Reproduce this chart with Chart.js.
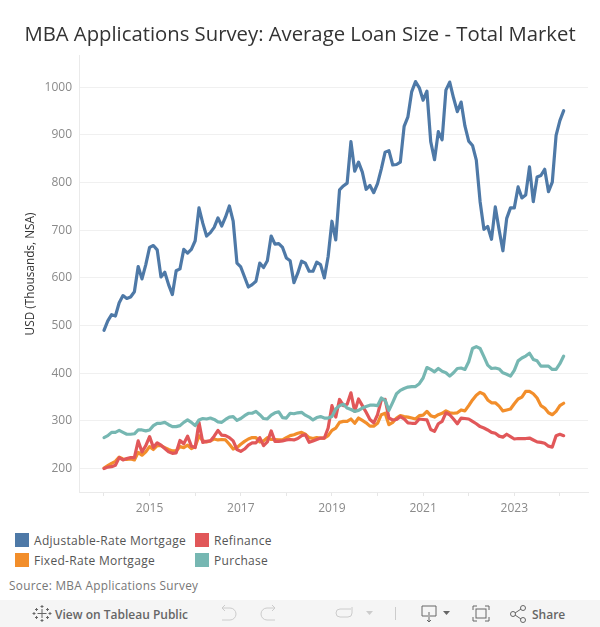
<!DOCTYPE html>
<html>
<head>
<meta charset="utf-8">
<title>MBA Applications Survey</title>
<script src="https://cdn.jsdelivr.net/npm/chart.js@4"></script>
<style>
    html, body { margin: 0; padding: 0; background: #fff; width: 600px; height: 627px; overflow: hidden; font-family: 'Open Sans', sans-serif; }
    #wrap { position: absolute; left: 0; top: 0; width: 600px; height: 520px; }
    .legend-item { position: absolute; font-size: 12px; color: #555; line-height: 14px; letter-spacing: 0.3px; white-space: nowrap; }
    .legend-item i { position: absolute; left: -19px; top: -1px; width: 14px; height: 14px; }
    #source { position: absolute; left: 9px; top: 577px; font-size: 11.8px; color: #777; letter-spacing: 0.3px; }
    #bar { position: absolute; left: 0; top: 600px; width: 600px; height: 27px; background: #f5f5f5; color: #666; font-size: 12px; font-weight: 600; }
    #bar span { position: absolute; top: 6px; }
    #bar svg { position: absolute; left: 0; top: 0; }
</style>
</head>
<body>
<div id="wrap"><canvas id="chartLoan"></canvas></div>

<div class="legend-item" style="left:34px;top:534px"><i style="background:#4e79a7"></i>Adjustable-Rate Mortgage</div>
<div class="legend-item" style="left:214px;top:534px"><i style="background:#e15759"></i>Refinance</div>
<div class="legend-item" style="left:34px;top:554px"><i style="background:#f28e2b"></i>Fixed-Rate Mortgage</div>
<div class="legend-item" style="left:214px;top:554px"><i style="background:#76b7b2"></i>Purchase</div>
<div id="source">Source: MBA Applications Survey</div>

<div id="bar">
    <svg width="600" height="27" fill="none" stroke="#888" stroke-width="1">
        <!-- tableau mark -->
        <path d="M42 9v9M37.500 13.500h9M42 5v3M40.500 6.500h3M42 19v3M40.500 20.500h3M34 12v3M32.500 13.500h3M50 12v3M48.500 13.500h3M36.500 8v3M35 9.500h3M47.500 8v3M46 9.500h3M36.500 16v3M35 17.500h3M47.500 16v3M46 17.500h3" stroke="#666"/>
        <!-- undo / redo -->
        <path d="M222 8h8a6 6 0 0 1 0 12h-8M222 8l3-3M222 8l3 3" stroke="#ccc"/>
        <path d="M275 8h-8a6 6 0 0 0 0 12h8M275 8l-3-3M275 8l-3 3" stroke="#ccc"/>
        <path d="M351 9h-11a4 4 0 0 0 0 8h8a4 4 0 0 0 4-4v-6" stroke="#ccc"/>
        <path d="M366 11l3.500 4 3.500-4z" fill="#ccc" stroke="none"/>
        <path d="M395.500 7v13" stroke="#ccc"/>
        <!-- download -->
        <path d="M422 6h14v10h-6M428 16h-6V6M429 12v10M427 20l2 2 2-2" stroke="#666"/>
        <path d="M443 11l3.500 4 3.500-4z" fill="#666" stroke="none"/>
        <!-- fullscreen -->
        <path d="M473 10V6h4M485 6h4v4M489 17v4h-4M477 21h-4v-4" stroke="#666"/>
        <rect x="476" y="9" width="10" height="9" stroke="#666"/>
        <!-- share -->
        <circle cx="513" cy="14" r="2.500" stroke="#666"/>
        <circle cx="523" cy="8" r="2.500" stroke="#666"/>
        <circle cx="523" cy="20" r="2.500" stroke="#666"/>
        <path d="M515 13l6-4M515 15l6 4" stroke="#666"/>
    </svg>
    <span style="left:55px">View on Tableau Public</span>
    <span style="left:532px">Share</span>
</div>

<script>
// Ano de cada marca do eixo (janeiro), e quais recebem rótulo
const yearTicks = [2014, 2015, 2016, 2017, 2018, 2019, 2020, 2021, 2022, 2023, 2024];
const labeledYears = [2015, 2017, 2019, 2021, 2023];
const valueTicks = [200, 300, 400, 500, 600, 700, 800, 900, 1000];

// Valores mensais, jan/2014 a fev/2024 (USD mil)
const armValues = [
    490, 510, 523, 520, 548, 563, 557, 560, 571, 624, 598, 628,
    664, 668, 659, 602, 612, 586, 565, 615, 619, 660, 652, 660,
    678, 747, 715, 688, 695, 706, 726, 709, 728, 751, 719, 631,
    623, 602, 581, 586, 593, 631, 622, 636, 688, 671, 672, 664,
    642, 636, 590, 610, 635, 631, 614, 614, 633, 628, 600, 645,
    719, 680, 785, 793, 799, 886, 824, 843, 822, 786, 794, 779,
    798, 829, 864, 867, 837, 838, 843, 918, 938, 991, 1012, 999,
    973, 992, 886, 848, 907, 890, 994, 1011, 978, 949, 969, 919,
    887, 878, 847, 760, 702, 708, 681, 749, 701, 657, 725, 747,
    747, 791, 768, 774, 833, 760, 812, 815, 828, 781, 801, 899,
    930, 951
];
const fixedValues = [
    201, 206, 211, 215, 224, 220, 219, 220, 218, 234, 228, 235,
    246, 240, 248, 248, 244, 240, 237, 237, 246, 244, 249, 242,
    246, 269, 258, 256, 258, 262, 260, 261, 260, 251, 241, 244,
    251, 257, 262, 265, 265, 256, 258, 265, 261, 261, 260, 260,
    265, 269, 271, 274, 276, 272, 265, 263, 265, 264, 264, 269,
    280, 285, 297, 299, 299, 304, 295, 306, 301, 296, 289, 289,
    295, 313, 316, 292, 297, 306, 311, 309, 308, 306, 304, 311,
    312, 320, 311, 308, 313, 316, 321, 317, 316, 317, 323, 321,
    332, 344, 354, 360, 356, 344, 338, 338, 331, 321, 323, 325,
    336, 346, 350, 362, 362, 357, 348, 332, 327, 317, 313, 320,
    332, 337
];
const refiValues = [
    200, 203, 204, 207, 223, 218, 221, 223, 223, 258, 235, 248,
    267, 244, 254, 249, 242, 235, 232, 233, 259, 252, 268, 247,
    244, 297, 255, 257, 258, 268, 280, 270, 269, 265, 258, 240,
    236, 241, 249, 254, 254, 265, 248, 256, 279, 257, 257, 258,
    260, 261, 260, 263, 269, 271, 255, 258, 261, 264, 264, 285,
    332, 308, 345, 332, 335, 359, 320, 346, 332, 318, 303, 296,
    313, 344, 345, 306, 302, 303, 309, 304, 296, 295, 295, 304,
    303, 302, 282, 278, 294, 299, 317, 313, 304, 294, 306, 305,
    304, 299, 294, 288, 285, 281, 276, 274, 268, 266, 272, 267,
    262, 263, 263, 263, 264, 260, 256, 255, 253, 247, 245, 269,
    272, 269
];
const purchaseValues = [
    265, 269, 276, 276, 280, 276, 272, 272, 273, 281, 281, 279,
    281, 290, 295, 295, 297, 292, 288, 288, 290, 297, 302, 297,
    290, 302, 305, 304, 306, 303, 298, 297, 303, 308, 309, 301,
    305, 311, 316, 316, 320, 313, 305, 304, 312, 317, 319, 307,
    306, 316, 315, 317, 318, 312, 308, 302, 307, 309, 306, 306,
    309, 325, 332, 335, 327, 324, 320, 322, 327, 330, 333, 333,
    332, 348, 343, 322, 339, 357, 364, 368, 371, 372, 372, 378,
    390, 412, 408, 403, 410, 404, 401, 394, 401, 410, 411, 408,
    424, 452, 456, 452, 435, 417, 410, 411, 409, 401, 398, 394,
    406, 426, 432, 436, 442, 429, 426, 415, 415, 415, 408, 408,
    420, 436
];

const toPoints = values => values.map((y, i) => ({ x: i, y: y }));
const serie = (label, values, color) => ({
    label: label,
    data: toPoints(values),
    borderColor: color,
    backgroundColor: color,
    borderWidth: 3.2,
    borderJoinStyle: 'round',
    borderCapStyle: 'round',
    pointRadius: 0,
    tension: 0
});

new Chart(document.getElementById('chartLoan'), {
    type: 'line',
    data: {
        datasets: [
            serie('Adjustable-Rate Mortgage', armValues, '#4e79a7'),
            serie('Purchase', purchaseValues, '#76b7b2'),
            serie('Refinance', refiValues, '#e15759'),
            serie('Fixed-Rate Mortgage', fixedValues, '#f28e2b')
        ]
    },
    options: {
        responsive: true,
        maintainAspectRatio: false,
        animation: false,
        layout: { padding: { left: 12, right: 12 } },
        plugins: {
            legend: { display: false },
            tooltip: { enabled: false },
            title: {
                display: true,
                text: 'MBA Applications Survey: Average Loan Size - Total Market',
                color: '#333',
                font: { family: 'Open Sans', size: 20.3, weight: '500', lineHeight: 1.2 },
                padding: { top: 23, bottom: 8.5 }
            }
        },
        scales: {
            x: {
                type: 'linear',
                min: -6.58,
                max: 127.4,
                afterFit: scale => { scale.height = 28; },
                afterBuildTicks: scale => {
                    scale.ticks = yearTicks.map(y => ({ value: (y - 2014) * 12 }));
                },
                grid: { drawOnChartArea: false, drawTicks: true, tickLength: 4, color: '#e6e6e6' },
                border: { color: '#eaeaea' },
                ticks: {
                    autoSkip: false,
                    maxRotation: 0,
                    padding: 5,
                    color: '#8a8a8a',
                    font: { family: 'Open Sans', size: 12 },
                    callback: value => {
                        const year = 2014 + value / 12;
                        return labeledYears.includes(year) ? String(year) : '';
                    }
                }
            },
            y: {
                min: 150.8,
                max: 1066,
                afterFit: scale => { scale.width = 67; },
                afterBuildTicks: scale => {
                    scale.ticks = valueTicks.map(v => ({ value: v }));
                },
                grid: { color: '#f0f0f0', drawTicks: false },
                border: { color: '#eaeaea' },
                title: {
                    display: true,
                    text: 'USD (Thousands, NSA)',
                    color: '#333',
                    font: { family: 'Open Sans', size: 11.8 },
                    padding: { top: 12, bottom: 0 }
                },
                ticks: {
                    padding: 7,
                    color: '#8a8a8a',
                    font: { family: 'Open Sans', size: 12 },
                    callback: value => String(value)
                }
            }
        }
    }
});
</script>
</body>
</html>
